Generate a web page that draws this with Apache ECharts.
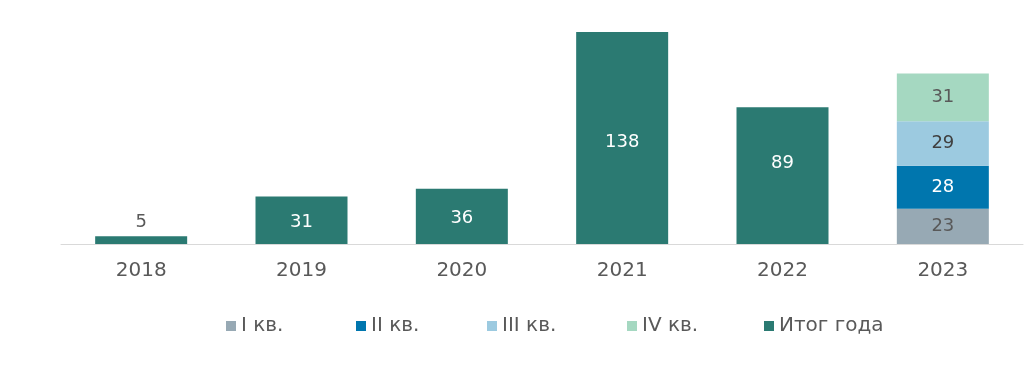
<!DOCTYPE html>
<html><head><meta charset="utf-8">
<script src="https://cdn.jsdelivr.net/npm/echarts@6/dist/echarts.min.js"></script>
<style>html,body{margin:0;padding:0;background:#fff}#c{width:1024px;height:385px}</style>
</head><body><div id="c"></div>
<script>
const categories = ['2018','2019','2020','2021','2022','2023'];
const q1 = [null,null,null,null,null,23];
const q2 = [null,null,null,null,null,28];
const q3 = [null,null,null,null,null,29];
const q4 = [null,null,null,null,null,31];
const total = [5,31,36,138,89,null];
const seriesNames = ['I кв.','II кв.','III кв.','IV кв.','Итог года'];

const font = 'DejaVu Sans';
const chart = echarts.init(document.getElementById('c'));
function bar(name, data, color, labelColor, pos) {
  return {
    name, type: 'bar', stack: 's', data, barWidth: 92,
    itemStyle: { color },
    label: { show: true, position: pos || 'inside', color: labelColor, fontFamily: font, fontSize: 18 },
    emphasis: { disabled: true }
  };
}
const labelOffsets = [0, 2, 2, 4, -12, 0];
const totalData = total.map((v, i) => {
  if (v === null) return v;
  if (i === 0) return { value: v, label: { position: 'top', color: '#595959', distance: 5 } };
  return { value: v, label: { offset: [0, labelOffsets[i]] } };
});
const legendX = [221, 351, 482, 622, 759];
const legends = seriesNames.map((n, i) => ({
  left: legendX[i], top: 311, itemWidth: 10, itemHeight: 10, itemGap: 0,
  icon: 'rect', selectedMode: false,
  textStyle: { fontFamily: font, fontSize: 20, color: '#595959', padding: [0, 0, 0, 0] },
  data: [n]
}));
chart.setOption({
  animation: false,
  grid: { left: 61, right: 1, top: 29, bottom: 141 },
  legend: legends,
  xAxis: {
    type: 'category', data: categories,
    axisLine: { lineStyle: { color: '#d9d9d9' } },
    axisTick: { show: false },
    axisLabel: { fontFamily: font, fontSize: 20, color: '#595959', margin: 17 }
  },
  yAxis: { type: 'value', min: 0, max: 140, show: false, splitLine: { show: false } },
  series: [
    bar(seriesNames[0], q1, '#97a9b4', '#595959'),
    bar(seriesNames[1], q2, '#0076ae', '#ffffff'),
    bar(seriesNames[2], q3, '#9ccae0', '#404040'),
    bar(seriesNames[3], q4, '#a5d8c1', '#595959'),
    bar(seriesNames[4], totalData, '#2b7a72', '#ffffff')
  ]
});
</script></body></html>
